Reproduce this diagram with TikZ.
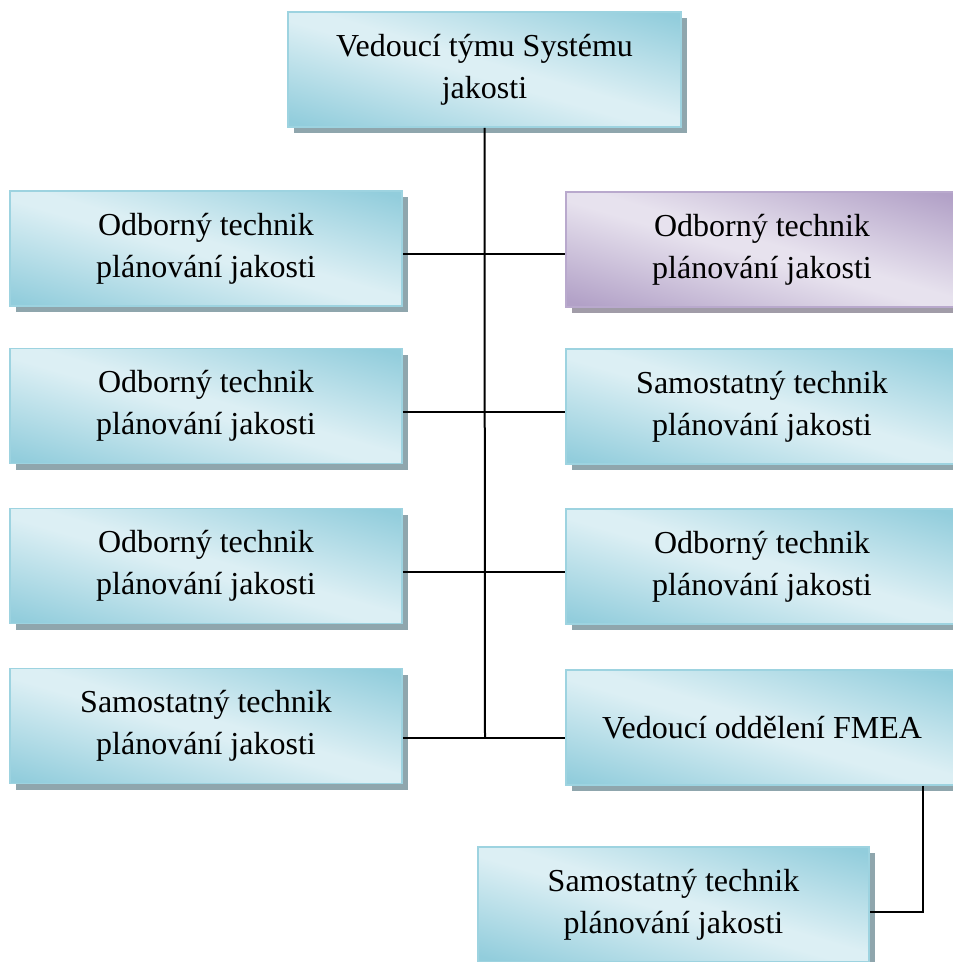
\documentclass[tikz,border=0pt]{standalone}
\usepackage{fontspec}
\setmainfont{Liberation Serif}
\usetikzlibrary{shadows}
\definecolor{cyD}{HTML}{92CDDC}
\definecolor{cyL}{HTML}{DCEFF4}
\definecolor{puD}{HTML}{B2A1C7}
\definecolor{puL}{HTML}{E7E2EE}
\definecolor{cyB}{HTML}{9DD3E0}
\definecolor{puB}{HTML}{B9A9CD}
\definecolor{shC}{HTML}{8FA6AD}
\definecolor{shP}{HTML}{A19CA8}
\pgfdeclarehorizontalshading{cyshade}{100bp}{color(0bp)=(cyD); color(37bp)=(cyD); color(49bp)=(cyL); color(51bp)=(cyL); color(63bp)=(cyD); color(100bp)=(cyD)}
\pgfdeclarehorizontalshading{pushade}{100bp}{color(0bp)=(puD); color(37bp)=(puD); color(49bp)=(puL); color(51bp)=(puL); color(63bp)=(puD); color(100bp)=(puD)}
\tikzset{
  boxbase/.style={line width=1.5pt, minimum width=392pt,
    minimum height=115pt, inner sep=0pt, align=center,
    font=\fontsize{32}{42}\selectfont},
  cybox/.style={boxbase, draw=cyB,
    drop shadow={shadow xshift=6pt, shadow yshift=-6pt, fill=shC, opacity=1, draw=none},
    path picture={\shade[shading=cyshade, shading angle=73.7]
      ([shift={(-200pt,-200pt)}]path picture bounding box.center) rectangle ++(400pt,400pt);}},
  pubox/.style={boxbase, draw=puB,
    drop shadow={shadow xshift=6pt, shadow yshift=-6pt, fill=shP, opacity=1, draw=none},
    path picture={\shade[shading=pushade, shading angle=73.7]
      ([shift={(-200pt,-200pt)}]path picture bounding box.center) rectangle ++(400pt,400pt);}},
  conn/.style={draw=black, line width=2pt}
}
\begin{document}
\begin{tikzpicture}[x=1pt, y=-1pt]
\useasboundingbox (0,0) rectangle (953,962);
\node[cybox, minimum width=393pt] (T) at (484.5,69.5) {Vedoucí týmu Systému\\jakosti};
\node[cybox] (L1) at (206,248.5) {Odborný technik\\plánování jakosti};
\node[cybox] (L2) at (206,406) {Odborný technik\\plánování jakosti};
\node[cybox] (L3) at (206,566) {Odborný technik\\plánování jakosti};
\node[cybox] (L4) at (206,726) {Samostatný technik\\plánování jakosti};
\node[pubox] (R1) at (762,249.5) {Odborný technik\\plánování jakosti};
\node[cybox] (R2) at (762,406.5) {Samostatný technik\\plánování jakosti};
\node[cybox] (R3) at (762,566.5) {Odborný technik\\plánování jakosti};
\node[cybox] (R4) at (762,727.5) {Vedoucí oddělení FMEA};
\node[cybox, minimum width=391pt] (B) at (673.5,904.5) {Samostatný technik\\plánování jakosti};
\coordinate (J1) at (485,254);
\coordinate (J2) at (485,412);
\coordinate (J3) at (485,572);
\coordinate (J4) at (485,738);
\coordinate (K) at (923,912);
\draw[conn] (T.south) -- (J4);
\draw[conn] (L1.east |- J1) -- (R1.west |- J1);
\draw[conn] (L2.east |- J2) -- (R2.west |- J2);
\draw[conn] (L3.east |- J3) -- (R3.west |- J3);
\draw[conn] (L4.east |- J4) -- (R4.west |- J4);
\draw[conn] (R4.south -| K) -- (K) -- (B.east |- K);
\end{tikzpicture}
\end{document}
